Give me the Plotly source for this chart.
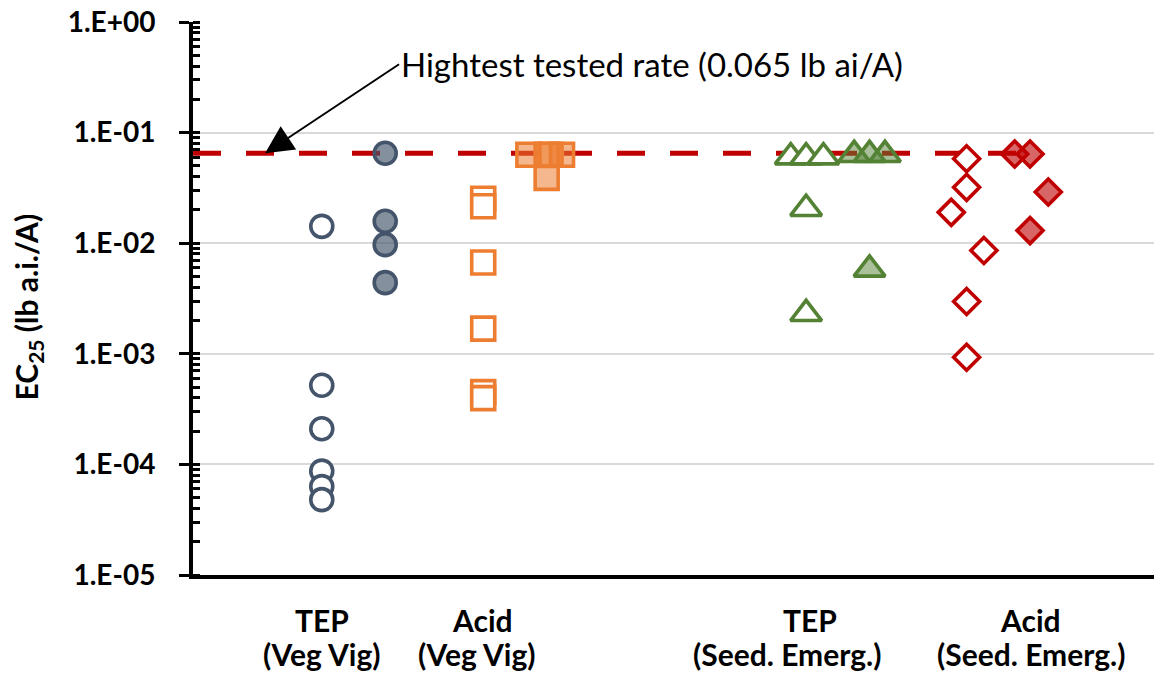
import math
import plotly.graph_objects as go

# ---------------- data ----------------
# TEP (Veg Vig)
tep_vv_open_x = [1.34, 1.34, 1.34, 1.34, 1.34, 1.34]
tep_vv_open_y = [0.0142, 5.2e-4, 2.1e-4, 8.7e-5, 6.3e-5, 4.8e-5]
tep_vv_fill_x = [2.0, 2.0, 2.0, 2.0]
tep_vv_fill_y = [0.065, 0.0158, 0.0097, 0.0044]
# Acid (Veg Vig)
acid_vv_open_x = [3.02, 3.02, 3.02, 3.02, 3.02, 3.02]
acid_vv_open_y = [0.0252, 0.0216, 0.0067, 0.00169, 4.5e-4, 3.97e-4]
acid_vv_fill_x = [3.49, 3.68, 3.72, 3.84, 3.68]
acid_vv_fill_y = [0.063, 0.063, 0.063, 0.063, 0.039]
# TEP (Seed. Emerg.)
tep_se_open_x = [6.22, 6.38, 6.56, 6.38, 6.38]
tep_se_open_y = [0.060, 0.060, 0.060, 0.0205, 0.0023]
tep_se_fill_x = [6.88, 7.04, 7.20, 7.04]
tep_se_fill_y = [0.063, 0.063, 0.063, 0.0058]
# Acid (Seed. Emerg.)
acid_se_open_x = [8.05, 8.05, 7.89, 8.23, 8.05, 8.05]
acid_se_open_y = [0.058, 0.032, 0.019, 0.0086, 0.00297, 0.00093]
acid_se_fill_x = [8.55, 8.71, 8.90, 8.71]
acid_se_fill_y = [0.064, 0.064, 0.029, 0.013]

highest_rate = 0.065
rate_line_x = [0.0, 8.69]

category_line1 = ["TEP", "Acid", "TEP", "Acid"]
category_line2 = ["(Veg Vig)", "(Veg Vig)", "(Seed. Emerg.)", "(Seed. Emerg.)"]
category_x_line1 = [1.34, 3.01, 6.42, 8.72]
category_x_line2 = [1.34, 2.95, 6.18, 8.72]

y_tick_vals = [1e-5, 1e-4, 1e-3, 1e-2, 1e-1, 1e0]
y_tick_text = ["1.E-05", "1.E-04", "1.E-03", "1.E-02", "1.E-01", "1.E+00"]

annotation_text = "Hightest tested rate (0.065 lb ai/A)"
y_title = "EC<sub>25</sub> (lb a.i./A)"

# ---------------- figure ----------------
FONT = "Lato"
fig = go.Figure()

fig.add_trace(go.Scatter(
    x=rate_line_x, y=[highest_rate, highest_rate], mode="lines",
    line=dict(color="#C00000", width=5, dash="28px,25px"), hoverinfo="skip"))

def add_points(x, y, symbol, color, fill, size):
    fig.add_trace(go.Scatter(
        x=x, y=y, mode="markers",
        marker=dict(symbol=symbol, size=size, color=fill,
                    line=dict(color=color, width=3.6))))

add_points(tep_vv_open_x, tep_vv_open_y, "circle", "#44546A", "white", 22)
add_points(tep_vv_fill_x, tep_vv_fill_y, "circle", "#44546A", "rgba(68,84,106,0.65)", 22)
add_points(acid_vv_open_x, acid_vv_open_y, "square", "#ED7D31", "white", 23)
add_points(acid_vv_fill_x, acid_vv_fill_y, "square", "#ED7D31", "rgba(237,125,49,0.55)", 23)
add_points(tep_se_open_x, tep_se_open_y, "triangle-up", "#548235", "white", 27)
add_points(tep_se_fill_x, tep_se_fill_y, "triangle-up", "#548235", "rgba(84,130,53,0.5)", 27)
add_points(acid_se_open_x, acid_se_open_y, "diamond", "#C00000", "white", 20)
add_points(acid_se_fill_x, acid_se_fill_y, "diamond", "#C00000", "rgba(192,0,0,0.6)", 20)

# invisible trace on overlay axis, used only for inside major ticks
fig.add_trace(go.Scatter(x=[0], y=[1e-3], yaxis="y2", mode="markers",
                         marker=dict(opacity=0), hoverinfo="skip"))

fig.update_layout(
    width=1154, height=685,
    margin=dict(l=193, r=0, t=22, b=110),
    plot_bgcolor="white", paper_bgcolor="white",
    showlegend=False,
    xaxis=dict(range=[0, 10], showgrid=False, zeroline=False,
               showline=True, linecolor="black", linewidth=4,
               showticklabels=False, ticks=""),
    yaxis=dict(type="log", range=[-5, 0], tickvals=y_tick_vals, ticktext=y_tick_text,
               showgrid=True, gridcolor="#D9D9D9", gridwidth=2,
               showline=True, linecolor="black", linewidth=4,
               ticks="outside", ticklen=10, tickwidth=3, tickcolor="black",
               ticklabelstandoff=18, zeroline=False,
               tickfont=dict(family=FONT, size=28, color="black", weight="bold"),
               minor=dict(ticks="inside", ticklen=7, tickwidth=3, tickcolor="black",
                          dtick="D1", showgrid=False)),
    yaxis2=dict(type="log", range=[-5, 0], overlaying="y", side="left",
                tickvals=y_tick_vals, showticklabels=False,
                ticks="inside", ticklen=7, tickwidth=3, tickcolor="black",
                showgrid=False, showline=False, zeroline=False),
)

# annotation text with arrow pointing at the highest-rate line
fig.add_annotation(x=0.75, y=math.log10(highest_rate), xref="x", yref="y",
                   text=annotation_text, showarrow=True, ax=134, ay=-89,
                   xanchor="left", yanchor="middle",
                   arrowhead=2, arrowsize=2.8, arrowwidth=2, arrowcolor="black",
                   font=dict(family=FONT, size=33, color="black"))

# y axis title
fig.add_annotation(x=-0.172, y=0.485, xref="paper", yref="paper", textangle=-90,
                   text="<b>" + y_title + "</b>", showarrow=False,
                   xanchor="center", yanchor="middle",
                   font=dict(family=FONT, size=30, color="black"))

# category labels (two lines each)
for cx, txt in zip(category_x_line1, category_line1):
    fig.add_annotation(x=cx, y=-0.082, xref="x", yref="paper", text="<b>" + txt + "</b>",
                       showarrow=False, xanchor="center", yanchor="middle",
                       font=dict(family=FONT, size=30, color="black"))
for cx, txt in zip(category_x_line2, category_line2):
    fig.add_annotation(x=cx, y=-0.142, xref="x", yref="paper", text="<b>" + txt + "</b>",
                       showarrow=False, xanchor="center", yanchor="middle",
                       font=dict(family=FONT, size=30, color="black"))

fig.write_html("out.html")
